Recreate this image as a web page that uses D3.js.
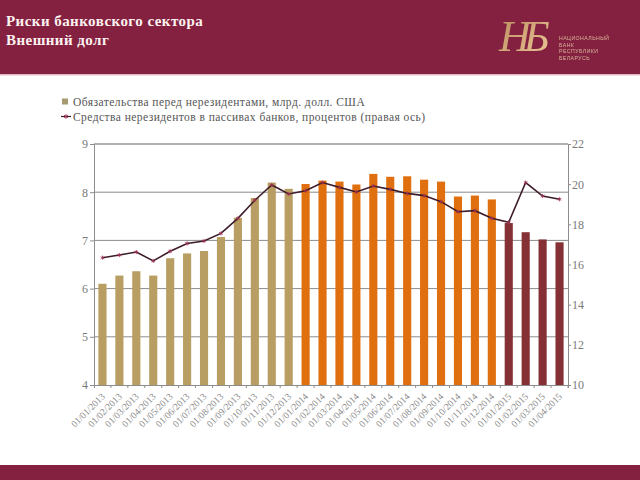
<!DOCTYPE html>
<html>
<head>
<meta charset="utf-8">
<script src="https://cdn.jsdelivr.net/npm/d3@7"></script>
<style>
  html, body { margin: 0; padding: 0; background: #fff; }
  svg { display: block; font-family: "Liberation Serif", serif; }
</style>
</head>
<body>
<script>
const months = ['01/01/2013','01/02/2013','01/03/2013','01/04/2013','01/05/2013','01/06/2013','01/07/2013',
  '01/08/2013','01/09/2013','01/10/2013','01/11/2013','01/12/2013','01/01/2014','01/02/2014','01/03/2014',
  '01/04/2014','01/05/2014','01/06/2014','01/07/2014','01/08/2014','01/09/2014','01/10/2014','01/11/2014',
  '01/12/2014','01/01/2015','01/02/2015','01/03/2015','01/04/2015'];
const liabilities = [6.1,6.27,6.36,6.27,6.63,6.73,6.78,7.07,7.47,7.88,8.2,8.07,8.17,8.24,8.22,8.16,8.38,8.32,
  8.33,8.26,8.22,7.91,7.93,7.85,7.36,7.17,7.02,6.96];
const deposits = [16.34,16.47,16.62,16.18,16.66,17.05,17.17,17.55,18.3,19.2,19.96,19.51,19.67,20.08,19.84,19.61,
  19.91,19.74,19.54,19.43,19.13,18.63,18.68,18.3,18.1,20.08,19.41,19.25];
const years = ['2013','2014','2015'];
const yearColors = ['#b89e62','#e0700f','#843034'];
const leftTicks = [4,5,6,7,8,9];
const rightTicks = [10,12,14,16,18,20,22];
const titleLines = ['Риски банковского сектора','Внешний долг'];
const legendLabels = ['Обязательства перед нерезидентами, млрд. долл. США',
  'Средства нерезидентов в пассивах банков, процентов (правая ось)'];
const bankName = ['НАЦИОНАЛЬНЫЙ','БАНК','РЕСПУБЛИКИ','БЕЛАРУСЬ'];

const W = 640, H = 480;
const margin = {top: 144, right: 72, bottom: 95, left: 94};
const width = W - margin.left - margin.right;
const height = H - margin.top - margin.bottom;
const wine = '#842040';

const svg = d3.select('body').append('svg').attr('width', W).attr('height', H);

// header and footer bands
svg.append('rect').attr('width', W).attr('height', 74).attr('fill', wine);
svg.append('rect').attr('y', 74).attr('width', W).attr('height', 1.5).attr('fill', '#e3b9c6');
svg.append('rect').attr('y', 465).attr('width', W).attr('height', 15).attr('fill', wine);

svg.selectAll('text.title').data(titleLines).enter().append('text')
    .attr('class', 'title')
    .attr('x', 6)
    .attr('y', (d, i) => 26 + i * 19)
    .attr('fill', '#fdf3f0')
    .attr('font-size', 15)
    .attr('font-weight', 'bold')
    .attr('letter-spacing', 0.45)
    .text(d => d);

// logo, only a rough likeness of the monogram
const defs = svg.append('defs');
defs.append('filter').attr('id', 'soft').append('feGaussianBlur').attr('stdDeviation', 0.35);
const gold = defs.append('linearGradient').attr('id', 'gold').attr('x1', 0).attr('y1', 0).attr('x2', 1).attr('y2', 1);
gold.append('stop').attr('offset', 0).attr('stop-color', '#b98a5c');
gold.append('stop').attr('offset', 1).attr('stop-color', '#eec99a');
const logo = svg.append('g').attr('filter', 'url(#soft)');
logo.append('text').attr('x', 499).attr('y', 51).attr('font-size', 44).attr('font-style', 'italic')
    .attr('letter-spacing', -7)
    .attr('fill', 'url(#gold)').text('НБ');
logo.selectAll('text.bank').data(bankName).enter().append('text')
    .attr('class', 'bank')
    .attr('x', 559)
    .attr('y', (d, i) => 40 + i * 6.5)
    .attr('font-size', 5.2)
    .attr('letter-spacing', 0.45)
    .attr('font-family', '"Liberation Sans", sans-serif')
    .attr('fill', '#d9b79a')
    .text(d => d);

// legend
const legend = svg.append('g').attr('fill', '#555');
legend.append('rect').attr('x', 62).attr('y', 98.5).attr('width', 6).attr('height', 6).attr('fill', '#a89a72');
legend.append('line').attr('x1', 61).attr('x2', 71).attr('y1', 116.5).attr('y2', 116.5)
    .attr('stroke', '#3d1c2c').attr('stroke-width', 1.2);
legend.append('path').attr('transform', 'translate(66,116.5)')
    .attr('d', d3.symbol(d3.symbolAsterisk, 14)()).attr('stroke', '#a03050').attr('fill', 'none');
legend.selectAll('text').data(legendLabels).enter().append('text')
    .attr('x', 73)
    .attr('y', (d, i) => 106 + i * 14.5)
    .attr('font-size', 11.5)
    .attr('letter-spacing', 0.45)
    .text(d => d);

const x = d3.scaleBand().domain(months).range([0, width]).paddingInner(0.52).paddingOuter(0.26);
const yLeft = d3.scaleLinear().domain([4, 9]).range([height, 0]);
const yRight = d3.scaleLinear().domain([10, 22]).range([height, 0]);
const barColor = d3.scaleOrdinal(years, yearColors);

const main = svg.append('g').attr('transform', 'translate(' + margin.left + ',' + margin.top + ')');

// horizontal grid, the top line is heavier
main.append('g').selectAll('line').data(leftTicks.slice(1)).enter().append('line')
    .attr('x1', 0).attr('x2', width)
    .attr('y1', d => yLeft(d)).attr('y2', d => yLeft(d))
    .attr('stroke', d => d === 9 ? '#999' : '#8c8c8c')
    .attr('stroke-width', d => d === 9 ? 1.6 : 1);

main.append('g').selectAll('rect').data(months).enter().append('rect')
    .attr('x', d => x(d))
    .attr('width', x.bandwidth())
    .attr('y', (d, i) => yLeft(liabilities[i]))
    .attr('height', (d, i) => height - yLeft(liabilities[i]))
    .attr('fill', d => barColor(d.slice(-4)));

// axes
const axisStyle = g => {
  g.select('.domain').attr('stroke', '#8c8c8c');
  g.selectAll('.tick line').attr('stroke', '#8c8c8c');
  g.selectAll('.tick text').attr('fill', '#7a7a7a').attr('font-family', '"Liberation Serif", serif');
};

main.append('g')
    .call(d3.axisLeft(yLeft).tickValues(leftTicks).tickSize(4).tickPadding(2).tickFormat(d3.format('d')))
    .call(axisStyle)
    .call(g => g.selectAll('.tick text').attr('font-size', 12));

main.append('g')
    .attr('transform', 'translate(' + width + ',0)')
    .call(d3.axisRight(yRight).tickValues(rightTicks).tickSize(3).tickPadding(1).tickFormat(d3.format('d')))
    .call(axisStyle)
    .call(g => g.selectAll('.tick text').attr('font-size', 12));

main.append('g')
    .attr('transform', 'translate(0,' + height + ')')
    .call(d3.axisBottom(x).tickSize(3).tickPadding(0))
    .call(axisStyle)
    .call(g => {
      // ticks sit between the months
      g.selectAll('.tick line').attr('x1', x.step() / 2).attr('x2', x.step() / 2);
      g.selectAll('.tick text')
          .attr('font-size', 9.5)
          .attr('fill', '#8a8a8a')
          .attr('text-anchor', 'end')
          .attr('dy', 0)
          .attr('transform', 'translate(1,10) rotate(-45)');
    });

// deposits line on the right axis
const line = d3.line().x((d, i) => x(months[i]) + x.bandwidth() / 2).y(d => yRight(d));
main.append('path').datum(deposits)
    .attr('d', line)
    .attr('fill', 'none')
    .attr('stroke', '#3d1c2c')
    .attr('stroke-width', 1.6);
main.append('g').selectAll('path').data(deposits).enter().append('path')
    .attr('transform', (d, i) => 'translate(' + (x(months[i]) + x.bandwidth() / 2) + ',' + yRight(d) + ')')
    .attr('d', d3.symbol(d3.symbolAsterisk, 12)())
    .attr('fill', 'none')
    .attr('stroke', '#a03050')
    .attr('stroke-width', 0.8);
</script>
</body>
</html>
